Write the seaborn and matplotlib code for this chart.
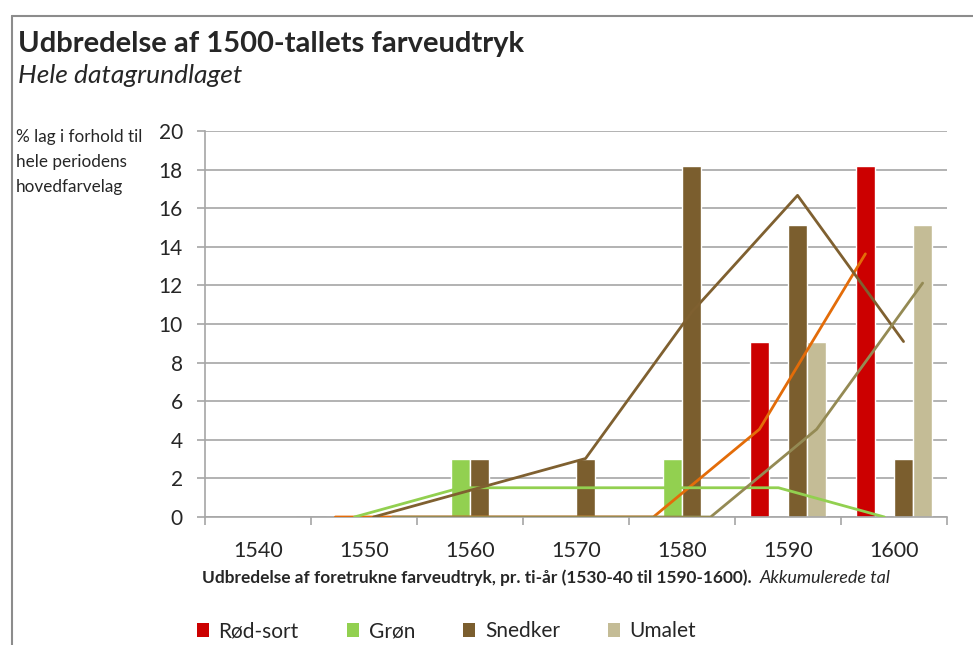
import pandas as pd
import matplotlib.pyplot as plt
import seaborn as sns
from matplotlib.patches import Patch
from matplotlib.lines import Line2D

# data (% of layers, cumulative per decade)
decades = ["1540", "1550", "1560", "1570", "1580", "1590", "1600"]
rod_sort = [0, 0, 0, 0, 0, 9.09, 18.18]
gron = [0, 0, 3.03, 0, 3.03, 0, 0]
snedker = [0, 0, 3.03, 3.03, 18.18, 15.15, 3.03]
umalet = [0, 0, 0, 0, 0, 9.09, 15.15]
series_names = ["Rød-sort", "Grøn", "Snedker", "Umalet"]
bar_colors = ["#CC0000", "#92D050", "#7B5E2E", "#C4BC96"]
trend_colors = ["#E36C09", "#92D050", "#7F6030", "#948A54"]

df = pd.DataFrame({"decade": decades, "Rød-sort": rod_sort, "Grøn": gron,
                   "Snedker": snedker, "Umalet": umalet})
long = df.melt(id_vars="decade", var_name="serie", value_name="pct")

sns.set_theme(style="white")
plt.rcParams["font.family"] = ["Lato", "DejaVu Sans"]

fig = plt.figure(figsize=(9.73, 6.45), dpi=100)
ax = fig.add_axes([205/973, 1-517/645, (947-205)/973, (517-131)/645])

sns.barplot(data=long, x="decade", y="pct", hue="serie", hue_order=series_names,
            palette=bar_colors, width=0.72, saturation=1, ax=ax, legend=False)

# 2-period moving average trendlines (as in Excel), drawn through each series' bars
for cont, name, col in zip(ax.containers, series_names, trend_colors):
    xs = [p.get_x() + p.get_width()/2 for p in cont]
    ma = df[name].rolling(2).mean()
    tr = pd.DataFrame({"x": xs, "y": ma}).dropna()
    sns.lineplot(data=tr, x="x", y="y", color=col, lw=2.0, ax=ax, zorder=5)

grid_c = "#A6A6A6"
ax.set_xlim(-0.5, len(decades)-0.5)
ax.set_ylim(0, 20)
ax.set_yticks(range(0, 21, 2))
ax.set_xlabel("")
ax.set_ylabel("")
ax.yaxis.grid(True, color=grid_c, lw=1.2)
ax.set_axisbelow(True)
for s in ["top", "right"]:
    ax.spines[s].set_visible(False)
for s in ["left", "bottom"]:
    ax.spines[s].set_color(grid_c)
    ax.spines[s].set_linewidth(1.2)
ax.tick_params(axis="y", length=6, width=1.2, color=grid_c, pad=10, labelsize=15,
               left=True, direction="out")
ax.set_xticks(range(len(decades)))
ax.set_xticklabels(decades)
ax.tick_params(axis="x", length=0, pad=17, labelsize=15.5)
ax.set_xticks([i - 0.5 for i in range(len(decades)+1)], minor=True)
ax.tick_params(axis="x", which="minor", length=6, width=1.2, color=grid_c, bottom=True,
               direction="out")

# titles
fig.text(18/973, 1-52/645, "Udbredelse af 1500-tallets farveudtryk",
         fontsize=21, fontweight="bold", va="baseline")
fig.text(18/973, 1-83/645, "Hele datagrundlaget", fontsize=19, style="italic",
         va="baseline")
fig.text(16/973, 1-129/645, "% lag i forhold til\nhele periodens\nhovedfarvelag",
         fontsize=12.3, va="top", linespacing=1.7)
xl = fig.text(202/973, 1-583/645,
              "Udbredelse af foretrukne farveudtryk, pr. ti-år (1530-40 til 1590-1600).",
              fontsize=12.4, fontweight="bold", va="baseline")
ax.annotate("Akkumulerede tal", xy=(1, 0), xycoords=xl, xytext=(6, 0),
            textcoords="offset points", fontsize=13, style="italic", va="bottom")

# legend
handles = [Patch(facecolor=c, edgecolor="none") for c in bar_colors]
fig.legend(handles, series_names, loc="center left", bbox_to_anchor=(178/973, 1-631/645),
           ncol=4, frameon=False, fontsize=15, handlelength=0.6, handleheight=0.65,
           handletextpad=0.45, columnspacing=2.3)

# chart frame (top and left edges visible)
fig.add_artist(Line2D([12/973, 1], [1-16/645, 1-16/645], color="#8C8C8C", lw=1.5))
fig.add_artist(Line2D([12/973, 12/973], [0, 1-16/645], color="#8C8C8C", lw=1.5))

fig.savefig("out.png", dpi=100, facecolor="white")
plt.close()
